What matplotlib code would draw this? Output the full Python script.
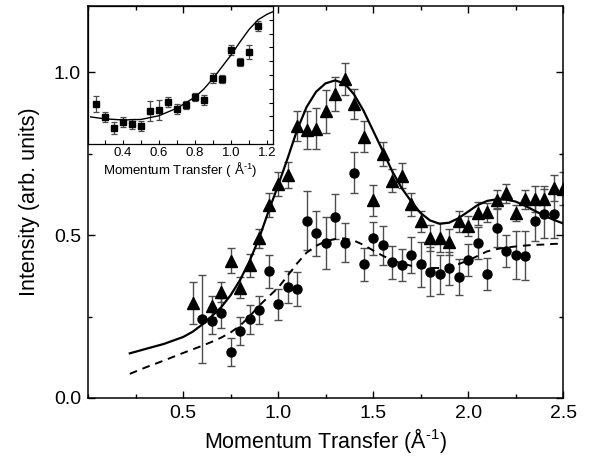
import numpy as np
import matplotlib
matplotlib.use('Agg')
import matplotlib.pyplot as plt
from matplotlib.ticker import MultipleLocator, NullFormatter

plt.rcParams['font.family'] = ['Liberation Sans', 'DejaVu Sans']
plt.rcParams['mathtext.fontset'] = 'custom'
plt.rcParams['mathtext.rm'] = 'Liberation Sans'
plt.rcParams['mathtext.it'] = 'Liberation Sans:italic'

# ── main panel data ───────────────────────────────────────────────────────────
tri_q = [0.55, 0.65, 0.70, 0.75, 0.80, 0.85, 0.90, 0.95, 1.00, 1.05, 1.10, 1.15,
         1.20, 1.25, 1.30, 1.35, 1.40, 1.45, 1.50, 1.55, 1.60, 1.65, 1.70, 1.75,
         1.80, 1.85, 1.90, 1.95, 2.00, 2.05, 2.10, 2.15, 2.20, 2.25, 2.30, 2.35,
         2.40, 2.45, 2.50]
tri_i = [0.292, 0.282, 0.326, 0.421, 0.338, 0.407, 0.490, 0.592, 0.656, 0.684,
         0.834, 0.822, 0.827, 0.881, 0.933, 0.980, 0.904, 0.802, 0.607, 0.750,
         0.667, 0.682, 0.595, 0.542, 0.492, 0.492, 0.478, 0.543, 0.528, 0.567,
         0.570, 0.609, 0.628, 0.567, 0.610, 0.612, 0.610, 0.645, 0.643]
tri_err = [0.065, 0.032, 0.030, 0.038, 0.032, 0.036, 0.030, 0.036, 0.037, 0.039,
           0.046, 0.058, 0.063, 0.066, 0.052, 0.050, 0.046, 0.047, 0.047, 0.037,
           0.035, 0.038, 0.035, 0.032, 0.040, 0.045, 0.040, 0.032, 0.030, 0.035,
           0.030, 0.030, 0.030, 0.025, 0.030, 0.040, 0.040, 0.040, 0.050]

cir_q = [0.60, 0.65, 0.70, 0.75, 0.80, 0.85, 0.90, 0.95, 1.00, 1.05, 1.10, 1.15,
         1.20, 1.25, 1.30, 1.35, 1.40, 1.45, 1.50, 1.55, 1.60, 1.65, 1.70, 1.75,
         1.80, 1.85, 1.90, 1.95, 2.00, 2.05, 2.10, 2.15, 2.20, 2.25, 2.30, 2.35,
         2.40, 2.45]
cir_i = [0.242, 0.237, 0.261, 0.140, 0.206, 0.241, 0.270, 0.389, 0.288, 0.341,
         0.334, 0.544, 0.505, 0.477, 0.557, 0.477, 0.691, 0.410, 0.490, 0.469,
         0.416, 0.408, 0.439, 0.410, 0.388, 0.380, 0.398, 0.372, 0.423, 0.476,
         0.380, 0.523, 0.451, 0.439, 0.437, 0.543, 0.566, 0.566]
cir_err = [0.136, 0.042, 0.045, 0.043, 0.042, 0.045, 0.044, 0.050, 0.048, 0.050,
           0.053, 0.090, 0.070, 0.080, 0.068, 0.060, 0.063, 0.050, 0.050, 0.060,
           0.050, 0.050, 0.055, 0.070, 0.074, 0.060, 0.050, 0.055, 0.050, 0.050,
           0.050, 0.060, 0.050, 0.075, 0.075, 0.060, 0.075, 0.075]

# fitted curves
fit_q = [0.22, 0.30, 0.40, 0.50, 0.55, 0.60, 0.65, 0.70, 0.75, 0.80, 0.85, 0.90,
         0.95, 1.00, 1.05, 1.10, 1.15, 1.20, 1.25, 1.30, 1.35, 1.40, 1.45, 1.50,
         1.55, 1.60, 1.65, 1.70, 1.75, 1.80, 1.85, 1.90, 1.95, 2.00, 2.05, 2.10,
         2.15, 2.20, 2.25, 2.30, 2.35, 2.40, 2.45, 2.50]
fit_tri = [0.137, 0.150, 0.166, 0.187, 0.203, 0.225, 0.250, 0.278, 0.315, 0.362,
           0.420, 0.490, 0.573, 0.652, 0.735, 0.822, 0.893, 0.940, 0.966, 0.975,
           0.966, 0.932, 0.882, 0.821, 0.760, 0.697, 0.645, 0.604, 0.568, 0.545,
           0.535, 0.538, 0.552, 0.572, 0.592, 0.605, 0.610, 0.609, 0.603, 0.590,
           0.575, 0.560, 0.547, 0.536]
fit_cir = [0.074, 0.093, 0.115, 0.138, 0.149, 0.160, 0.172, 0.185, 0.201, 0.222,
           0.250, 0.283, 0.311, 0.338, 0.375, 0.413, 0.446, 0.467, 0.481, 0.488,
           0.490, 0.483, 0.470, 0.453, 0.437, 0.423, 0.413, 0.406, 0.402, 0.399,
           0.399, 0.403, 0.411, 0.422, 0.436, 0.450, 0.457, 0.462, 0.465, 0.468,
           0.470, 0.471, 0.473, 0.474]

# ── inset data ────────────────────────────────────────────────────────────────
ins_q = [0.25, 0.30, 0.35, 0.40, 0.45, 0.50, 0.55, 0.60, 0.65, 0.70, 0.75,
         0.80, 0.85, 0.90, 0.95, 1.00, 1.05, 1.10, 1.15]
ins_i = [0.290, 0.196, 0.116, 0.160, 0.145, 0.130, 0.240, 0.246, 0.304, 0.254,
         0.283, 0.340, 0.320, 0.478, 0.470, 0.680, 0.594, 0.667, 0.855]
ins_err = [0.060, 0.035, 0.045, 0.035, 0.035, 0.035, 0.073, 0.073, 0.035, 0.035,
           0.030, 0.030, 0.035, 0.035, 0.030, 0.035, 0.030, 0.050, 0.035]
ins_fit_q = [0.22, 0.30, 0.40, 0.50, 0.60, 0.70, 0.80, 0.85, 0.90, 0.95, 1.00,
             1.05, 1.10, 1.15, 1.20, 1.23]
ins_fit_i = [0.196, 0.182, 0.174, 0.178, 0.205, 0.260, 0.340, 0.400, 0.475,
             0.560, 0.645, 0.740, 0.830, 0.900, 0.940, 0.957]

fig = plt.figure(figsize=(5.89, 4.59), dpi=100)
ax = fig.add_axes([0.1494, 0.133, 0.8066, 0.855])

err_kw = dict(ls='none', ecolor='0.3', elinewidth=1.0, capsize=3, capthick=1.0,
              color='black', mec='black')
ax.errorbar(tri_q, tri_i, yerr=tri_err, marker='^', ms=8, **err_kw)
ax.errorbar(cir_q, cir_i, yerr=cir_err, marker='o', ms=6.5, **err_kw)
ax.plot(fit_q, fit_tri, '-', color='black', lw=1.6)
ax.plot(fit_q, fit_cir, '--', color='black', lw=1.4, dashes=(4, 3))

ax.set_xlim(0, 2.5)
ax.set_ylim(0, 1.205)
ax.set_xticks([0.5, 1.0, 1.5, 2.0, 2.5])
ax.xaxis.set_minor_locator(MultipleLocator(0.25))
ax.yaxis.set_major_locator(MultipleLocator(0.5))
ax.yaxis.set_minor_locator(MultipleLocator(0.25))
ax.xaxis.set_major_formatter(plt.FuncFormatter(lambda v, p: f'{v:.1f}'))
ax.yaxis.set_major_formatter(plt.FuncFormatter(lambda v, p: f'{v:.1f}'))
ax.tick_params(which='both', direction='in', top=True, right=True,
               labelsize=14, width=1.0)
ax.tick_params(which='major', length=5, pad=5)
ax.tick_params(which='minor', length=3)
for s in ax.spines.values():
    s.set_linewidth(1.1)
ax.set_xlabel('Momentum Transfer (Å$^{\\text{-}1}$)', fontsize=15.5, labelpad=3)
ax.set_ylabel('Intensity (arb. units)', fontsize=15.5, labelpad=10)

# ── inset ─────────────────────────────────────────────────────────────────────
ins = fig.add_axes([0.1494, 0.6863, 0.3141, 0.3007])
ins.patch.set_alpha(0)
ins.errorbar(ins_q, ins_i, yerr=ins_err, ls='none', marker='s', ms=4.5,
             color='black', ecolor='0.3', elinewidth=0.9, capsize=2,
             capthick=0.9)
ins.plot(ins_fit_q, ins_fit_i, '-', color='black', lw=1.0)
ins.set_xlim(0.205, 1.233)
ins.set_ylim(0, 1)
ins.xaxis.set_major_locator(MultipleLocator(0.2))
ins.xaxis.set_minor_locator(MultipleLocator(0.1))
ins.yaxis.set_major_locator(MultipleLocator(0.2))
ins.yaxis.set_minor_locator(MultipleLocator(0.1))
ins.xaxis.set_major_formatter(plt.FuncFormatter(lambda v, p: f'{v:.1f}'))
ins.yaxis.set_major_formatter(NullFormatter())
ins.tick_params(which='both', direction='in', left=False, right=True,
                labelleft=False, labelsize=9.5, pad=2, width=0.8)
ins.tick_params(which='major', length=3)
ins.tick_params(which='minor', length=3)
for s in ins.spines.values():
    s.set_linewidth(0.9)
ins.set_xlabel('Momentum Transfer ( Å$^{\\text{-}1}$)', fontsize=9.5, labelpad=1)

fig.savefig('out.png', dpi=100)
